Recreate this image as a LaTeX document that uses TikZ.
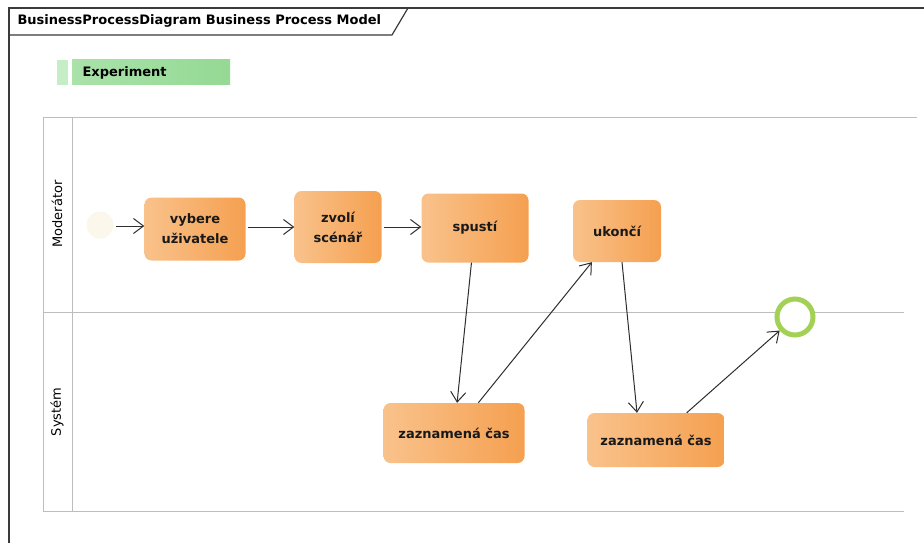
\documentclass[tikz,border=0pt]{standalone}
\usepackage{fontspec}
\setmainfont{DejaVu Sans}
\usetikzlibrary{arrows.meta}

\definecolor{framec}{HTML}{3A3A3A}
\definecolor{lanec}{HTML}{BDBDBD}
\definecolor{orangeL}{HTML}{F9C28B}
\definecolor{orangeR}{HTML}{F5A050}
\definecolor{greenbar}{HTML}{AAE2AA}
\definecolor{greenbarR}{HTML}{94D994}
\definecolor{greentab}{HTML}{C6EEC6}
\definecolor{endring}{HTML}{A3D155}
\definecolor{startfill}{HTML}{FBF7EA}
\definecolor{flowc}{HTML}{2E2E2E}

\tikzset{
  task/.style={rounded corners=7pt, left color=orangeL, right color=orangeR,
    draw=none, align=center, font=\bfseries\fontsize{13}{20}\selectfont,
    text=black!90},
  flow/.style={draw=flowc, line width=1pt,
    -{Straight Barb[length=10pt,width=15pt,line width=1pt]}},
  lane/.style={draw=lanec, line width=0.9pt},
  lanelabel/.style={rotate=90, font=\fontsize{13}{15}\selectfont, text=black},
}

\begin{document}
\begin{tikzpicture}[x=1pt,y=-1pt]
  \useasboundingbox[fill=white] (0,0) rectangle (924,543);
  \clip (0,0) rectangle (924,543);

  % diagram frame with its name tab
  \draw[framec, line width=1.2pt] (9,560) -- (9,8) -- (940,8);
  \draw[framec, line width=1.2pt] (9,35) -- (392,35) -- (408,8);
  \node[anchor=west, font=\bfseries\fontsize{13}{15}\selectfont] (title) at (14,21)
    {BusinessProcessDiagram Business Process Model};

  % pool label bar
  \fill[greentab] (57,60) rectangle (68,85);
  \shade[left color=greenbar, right color=greenbarR] (72,60) rectangle (230,85);
  \node[anchor=west, font=\bfseries\fontsize{13}{15}\selectfont] (pool) at (79,73) {Experiment};

  % swimlanes
  \draw[lane] (917,117) -- (43,117) -- (43,511) -- (904,511);
  \draw[lane] (43,312) -- (904,312);
  \draw[lane] (72,117) -- (72,511);
  \node[lanelabel] (moderator) at (57,214) {Moderátor};
  \node[lanelabel] (system) at (57,412) {Systém};

  % events
  \node[circle, fill=startfill, draw=none, minimum size=27pt, inner sep=0pt] (start) at (100,225) {};
  \node[circle, fill=white, draw=endring, line width=5pt, minimum size=36pt, inner sep=0pt] (end) at (795,317) {};

  % tasks
  \node[task, minimum width=101pt, minimum height=63pt] (t1) at (195,229) {vybere\\uživatele};
  \node[task, minimum width=87pt, minimum height=72pt] (t2) at (338,227) {zvolí\\scénář};
  \node[task, minimum width=107pt, minimum height=69pt] (t3) at (475,228) {spustí};
  \node[task, minimum width=88pt, minimum height=62pt] (t4) at (617,231) {ukončí};
  \node[task, minimum width=141pt, minimum height=60pt] (t5) at (454,433) {zaznamená čas};
  \node[task, minimum width=137pt, minimum height=54pt] (t6) at (656,440) {zaznamená čas};

  % sequence flows
  \draw[flow] (start.east) ++(2,1) coordinate (s0) -- (t1.west |- s0);
  \draw[flow] (t1.east) ++(2,-2) coordinate (s1) -- (t2.west |- s1);
  \draw[flow] (t2.east) ++(2,0) coordinate (s2) -- (t3.west |- s2);
  \draw[flow] (t3) -- (t5);
  \draw[flow] (t5) -- (t4);
  \draw[flow] ([xshift=5pt]t4.south) -- ([xshift=-19pt]t6.north);
  \draw[flow] (t6) -- (end);
\end{tikzpicture}
\end{document}
